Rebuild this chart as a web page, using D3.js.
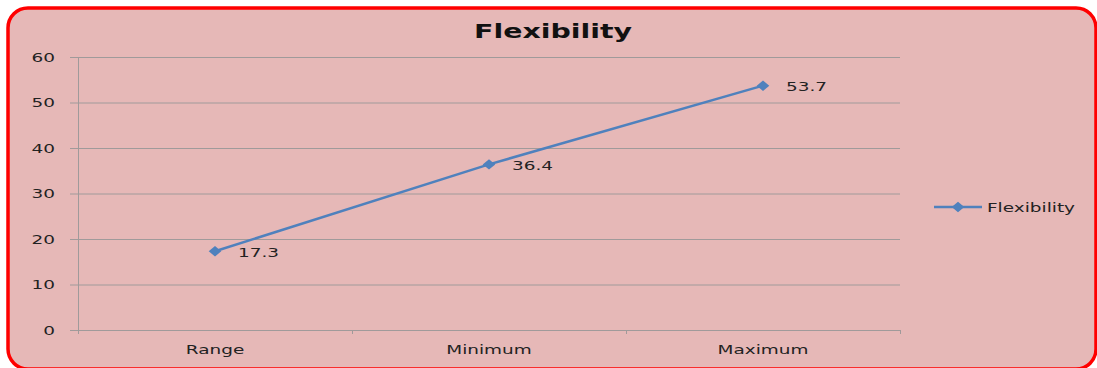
<!DOCTYPE html>
<html>
<head>
<meta charset="utf-8">
<script src="https://cdn.jsdelivr.net/npm/d3@7"></script>
<style>
  html, body { margin: 0; padding: 0; background: #ffffff; }
  svg { display: block; }
</style>
</head>
<body>
<div id="chart"></div>
<script>
// chart data
var categories = ["Range", "Minimum", "Maximum"];
var flexibility = [17.3, 36.4, 53.7];
var yTicks = [0, 10, 20, 30, 40, 50, 60];
var seriesName = "Flexibility";

var width = 1097, height = 368;
var margin = { left: 78, top: 57, right: 197, bottom: 38 };
var stretch = 1.42; // the source picture is squeezed wide, text included

var svg = d3.select("#chart").append("svg")
    .attr("width", width)
    .attr("height", height);

// outer rounded frame (bottom and right run off the picture)
svg.append("rect")
    .attr("x", 8).attr("y", 8)
    .attr("width", 1088).attr("height", 361)
    .attr("rx", 20).attr("ry", 20)
    .attr("fill", "#e6b8b7")
    .attr("stroke", "#ff0000")
    .attr("stroke-width", 3.5);

var x = d3.scaleBand()
    .domain(categories)
    .range([margin.left, width - margin.right]);

var y = d3.scaleLinear()
    .domain([0, 60])
    .range([height - margin.bottom, margin.top]);

var gridColor = "#a09a9a";
var labelFont = "'DejaVu Sans', Verdana, sans-serif";

// writes a text stretched sideways around its anchor point
function wideText(sel, px, py, anchor) {
    return sel.append("g")
        .attr("transform", "translate(" + px + "," + py + ") scale(" + stretch + ",1)")
        .append("text")
        .attr("text-anchor", anchor || "start")
        .attr("font-family", labelFont)
        .attr("font-size", 13)
        .attr("fill", "#222");
}

// horizontal gridlines
svg.append("g").selectAll("line")
    .data(yTicks)
    .enter().append("line")
    .attr("x1", margin.left - 8)
    .attr("x2", width - margin.right)
    .attr("y1", function (d) { return y(d) + 0.5; })
    .attr("y2", function (d) { return y(d) + 0.5; })
    .attr("stroke", gridColor)
    .attr("stroke-width", 1);

// y axis line
svg.append("line")
    .attr("x1", margin.left + 0.5).attr("x2", margin.left + 0.5)
    .attr("y1", y(60)).attr("y2", y(0) + 4)
    .attr("stroke", gridColor);

// category boundary ticks
var bounds = categories.map(function (c) { return x(c); }).concat([width - margin.right]);
svg.append("g").selectAll("line")
    .data(bounds.slice(1))
    .enter().append("line")
    .attr("x1", function (d) { return d + 0.5; })
    .attr("x2", function (d) { return d + 0.5; })
    .attr("y1", y(0)).attr("y2", y(0) + 4)
    .attr("stroke", gridColor);

// y tick labels
yTicks.forEach(function (t) {
    wideText(svg, margin.left - 23, y(t), "end")
        .attr("dy", "0.35em")
        .text(t);
});

// x tick labels
categories.forEach(function (c) {
    wideText(svg, x(c) + x.bandwidth() / 2, y(0) + 24, "middle")
        .text(c);
});

// title
wideText(svg, 553, 38, "middle")
    .attr("font-weight", "bold")
    .attr("font-size", 20)
    .attr("fill", "#111")
    .text(seriesName);

var lineColor = "#4f81bd";
var pts = categories.map(function (c, i) {
    return { cat: c, value: flexibility[i] };
});

var line = d3.line()
    .x(function (d) { return x(d.cat) + x.bandwidth() / 2; })
    .y(function (d) { return y(d.value); });

svg.append("path")
    .datum(pts)
    .attr("d", line)
    .attr("fill", "none")
    .attr("stroke", lineColor)
    .attr("stroke-width", 2.5);

var diamond = d3.symbol().type(d3.symbolDiamond2).size(70);

svg.append("g").selectAll("path")
    .data(pts)
    .enter().append("path")
    .attr("d", diamond)
    .attr("transform", function (d) {
        return "translate(" + (x(d.cat) + x.bandwidth() / 2) + "," + y(d.value) + ") scale(1.2,1)";
    })
    .attr("fill", lineColor);

// data labels
pts.forEach(function (d) {
    wideText(svg, x(d.cat) + x.bandwidth() / 2 + 23, y(d.value) + 1, "start")
        .attr("dy", "0.35em")
        .text(d.value);
});

// legend
var legend = svg.append("g").attr("transform", "translate(934,207)");
legend.append("line")
    .attr("x1", 0).attr("x2", 48)
    .attr("y1", 0).attr("y2", 0)
    .attr("stroke", lineColor)
    .attr("stroke-width", 2.5);
legend.append("path")
    .attr("d", diamond)
    .attr("transform", "translate(24,0) scale(1.2,1)")
    .attr("fill", lineColor);
wideText(legend, 53, 0, "start")
    .attr("dy", "0.35em")
    .text(seriesName);
</script>
</body>
</html>
